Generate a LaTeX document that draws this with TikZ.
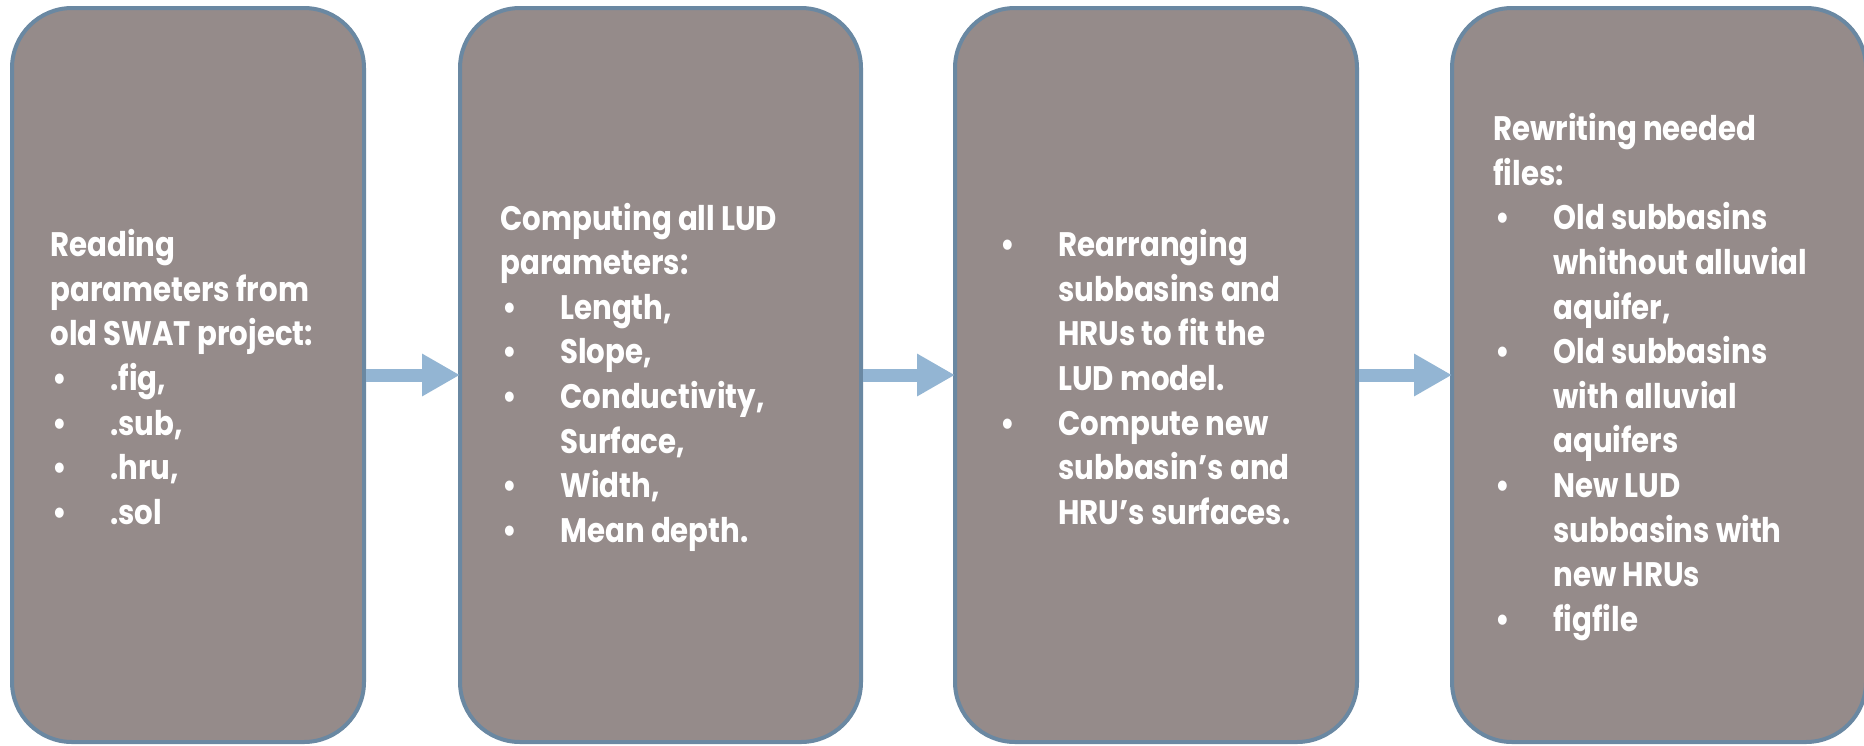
\documentclass[tikz,border=0pt]{standalone}
\usepackage{fontspec}
\setmainfont{Poppins}[FakeStretch=0.86]
\usetikzlibrary{arrows.meta}
\definecolor{boxfill}{HTML}{958B8A}
\definecolor{boxline}{HTML}{6A88A2}
\definecolor{arrowblue}{HTML}{93B5D3}
\newcommand{\bul}{\makebox[30pt][l]{\hspace*{1pt}\textbullet}}
\newcommand{\ind}{\hspace*{30pt}}
\tikzset{
  stepbox/.style={draw=boxline, fill=boxfill, line width=2pt, rounded corners=30pt,
    rectangle, inner sep=0pt, outer sep=0pt, minimum height=367pt},
  steptext/.style={anchor=west, align=left, inner sep=0pt, text=white,
    font=\bfseries\fontsize{17}{22.3}\selectfont},
  flow/.style={arrowblue, line width=6.5pt, -{Triangle[length=19pt,width=20pt]}, shorten <=1pt}
}
\begin{document}
\begin{tikzpicture}[x=0.5pt, y=-0.5pt]
\useasboundingbox (0,0) rectangle (1864,745);
\node[stepbox, minimum width=176pt] (b1) at (188,375) {};
\node[stepbox, minimum width=200.5pt] (b2) at (660.5,375) {};
\node[stepbox, minimum width=201pt] (b3) at (1156,375) {};
\node[stepbox, minimum width=207pt] (b4) at (1659,375) {};
\node[steptext] (t1) at (50,377) {Reading\\parameters from\\old SWAT project:\\\bul .fig,\\\bul .sub,\\\bul .hru,\\\bul .sol};
\node[steptext] (t2) at (500,377) {Computing all LUD\\parameters:\\\bul Length,\\\bul Slope,\\\bul Conductivity,\\\ind Surface,\\\bul Width,\\\bul Mean depth.};
\node[steptext] (t3) at (998,377) {\bul Rearranging\\\ind subbasins and\\\ind HRUs to fit the\\\ind LUD model.\\\bul Compute new\\\ind subbasin’s and\\\ind HRU’s surfaces.};
\node[steptext] (t4) at (1493,377) {Rewriting needed\\files:\\\bul Old subbasins\\\ind whithout alluvial\\\ind aquifer,\\\bul Old subbasins\\\ind with alluvial\\\ind aquifers\\\bul New LUD\\\ind subbasins with\\\ind new HRUs\\\bul figfile};
\draw[flow] (b1.east) -- (b2.west);
\draw[flow] (b2.east) -- (b3.west);
\draw[flow] (b3.east) -- (b4.west);
\end{tikzpicture}
\end{document}
